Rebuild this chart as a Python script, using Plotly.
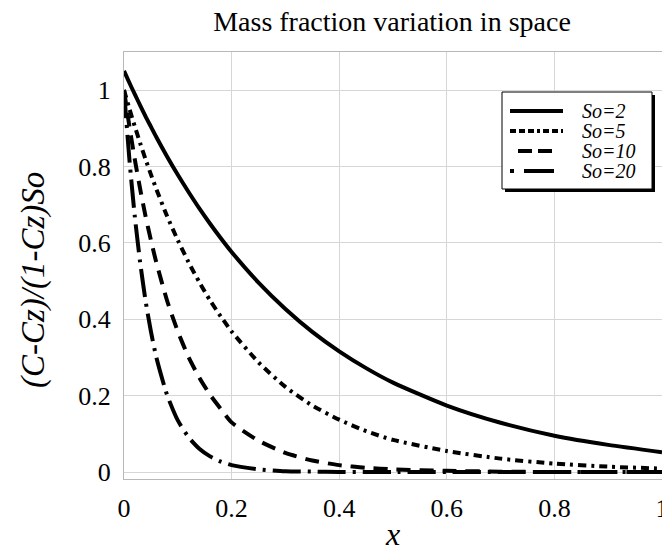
import plotly.graph_objects as go

x_vals = [0, 0.01, 0.02, 0.03, 0.04, 0.05, 0.06, 0.08, 0.1, 0.12, 0.14, 0.16, 0.18, 0.2,
          0.25, 0.3, 0.35, 0.4, 0.45, 0.5, 0.6, 0.7, 0.8, 0.9, 1.0]

so2 = [1.05, 1.019, 0.989, 0.960, 0.931, 0.904, 0.877, 0.826, 0.778, 0.733, 0.690, 0.650, 0.612, 0.576,
       0.496, 0.427, 0.367, 0.316, 0.272, 0.234, 0.174, 0.129, 0.095, 0.071, 0.052]
so5 = [1.0, 0.951, 0.905, 0.861, 0.819, 0.779, 0.741, 0.670, 0.607, 0.549, 0.497, 0.449, 0.407, 0.368,
       0.287, 0.223, 0.174, 0.137, 0.107, 0.084, 0.055, 0.035, 0.022, 0.014, 0.009]
so10 = [1.0, 0.905, 0.819, 0.741, 0.670, 0.607, 0.549, 0.449, 0.368, 0.301, 0.247, 0.202, 0.165, 0.130,
        0.082, 0.050, 0.030, 0.018, 0.011, 0.007, 0.003, 0.001, 0.0, 0.0, 0.0]
so20 = [1.0, 0.819, 0.670, 0.549, 0.449, 0.368, 0.301, 0.202, 0.135, 0.091, 0.061, 0.041, 0.027, 0.018,
        0.007, 0.002, 0.001, 0.0, 0.0, 0.0, 0.0, 0.0, 0.0, 0.0, 0.0]

names = ["So=2", "So=5", "So=10", "So=20"]
series = [so2, so5, so10, so20]
dashes = ["solid", "8px,5px,3px,5px", "14px,9px", "28px,7px,3px,7px"]
legend_dashes = ["solid", "6px,3px,6px,3px,6px,3px,3px,3px", "0px,8px,14px,6px,14px,20px",
                 "4px,10px,30px,20px"]

W, H = 662, 552
ML, MR, MT, MB = 124, 0, 52, 73
PW, PH = W - ML - MR, H - MT - MB

def px_x(p):
    return (p - ML) / PW

def px_y(p):
    return (H - MB - p) / PH

SERIF = "Liberation Serif"

fig = go.Figure()
for nm, ys, d in zip(names, series, dashes):
    fig.add_trace(go.Scatter(
        x=x_vals, y=ys, mode="lines", name=nm, showlegend=False,
        line=dict(color="black", width=4, dash=d, shape="spline", smoothing=0.6),
    ))

# legend box with shadow (drawn manually for compact spacing)
fig.add_shape(type="rect", xref="paper", yref="paper",
              x0=px_x(505), x1=px_x(655), y0=px_y(192), y1=px_y(95),
              fillcolor="black", line=dict(width=0), layer="above")
fig.add_shape(type="rect", xref="paper", yref="paper",
              x0=px_x(502), x1=px_x(652), y0=px_y(189), y1=px_y(92),
              fillcolor="white", line=dict(color="black", width=1), layer="above")
leg_rows = [111, 131, 151, 171]
for nm, d, row in zip(names, legend_dashes, leg_rows):
    fig.add_shape(type="line", xref="paper", yref="paper",
                  x0=px_x(510), x1=px_x(563), y0=px_y(row), y1=px_y(row),
                  line=dict(color="black", width=4, dash=d), layer="above")
    fig.add_annotation(text=nm, xref="paper", yref="paper", x=px_x(580), y=px_y(row),
                       xanchor="left", yanchor="middle", showarrow=False,
                       font=dict(family=SERIF, size=20, style="italic", color="black"))

# y-axis title
fig.add_annotation(text="(C-Cz)/(1-Cz)So", xref="paper", yref="paper",
                   x=px_x(33), y=px_y(280), xanchor="center", yanchor="middle",
                   textangle=-90, showarrow=False,
                   font=dict(family=SERIF, size=33, style="italic", color="black"))

fig.update_layout(
    width=W, height=H,
    margin=dict(l=ML, r=MR, t=MT, b=MB),
    paper_bgcolor="white", plot_bgcolor="white",
    font=dict(family=SERIF, color="black"),
    title=dict(text="Mass fraction variation in space", x=392 / W, xanchor="center",
               xref="container", y=1 - 21 / H, yref="container", yanchor="middle",
               font=dict(family=SERIF, size=28, color="black")),
    showlegend=False,
    xaxis=dict(range=[0, 1], tick0=0, dtick=0.2, showgrid=True, gridcolor="#d6d6d6", gridwidth=1,
               zeroline=False, showline=True, linecolor="#b8b8b8", linewidth=1, mirror=True,
               ticks="", tickfont=dict(family=SERIF, size=26, color="black"), ticklabelstandoff=6,
               ticklabeloverflow="allow", automargin=False,
               title=dict(text="x", font=dict(family=SERIF, size=32, style="italic", color="black"),
                          standoff=5)),
    yaxis=dict(range=[-0.0183, 1.0995], tick0=0, dtick=0.2, showgrid=True, gridcolor="#d6d6d6",
               gridwidth=1, zeroline=False, showline=True, linecolor="#b8b8b8", linewidth=1,
               mirror=False, ticks="", tickfont=dict(family=SERIF, size=26, color="black"),
               ticklabelstandoff=7, automargin=False),
)

fig.write_html("out.html", config={"displayModeBar": False},
               post_script="document.body.style.margin='0';document.body.style.overflow='hidden';")
